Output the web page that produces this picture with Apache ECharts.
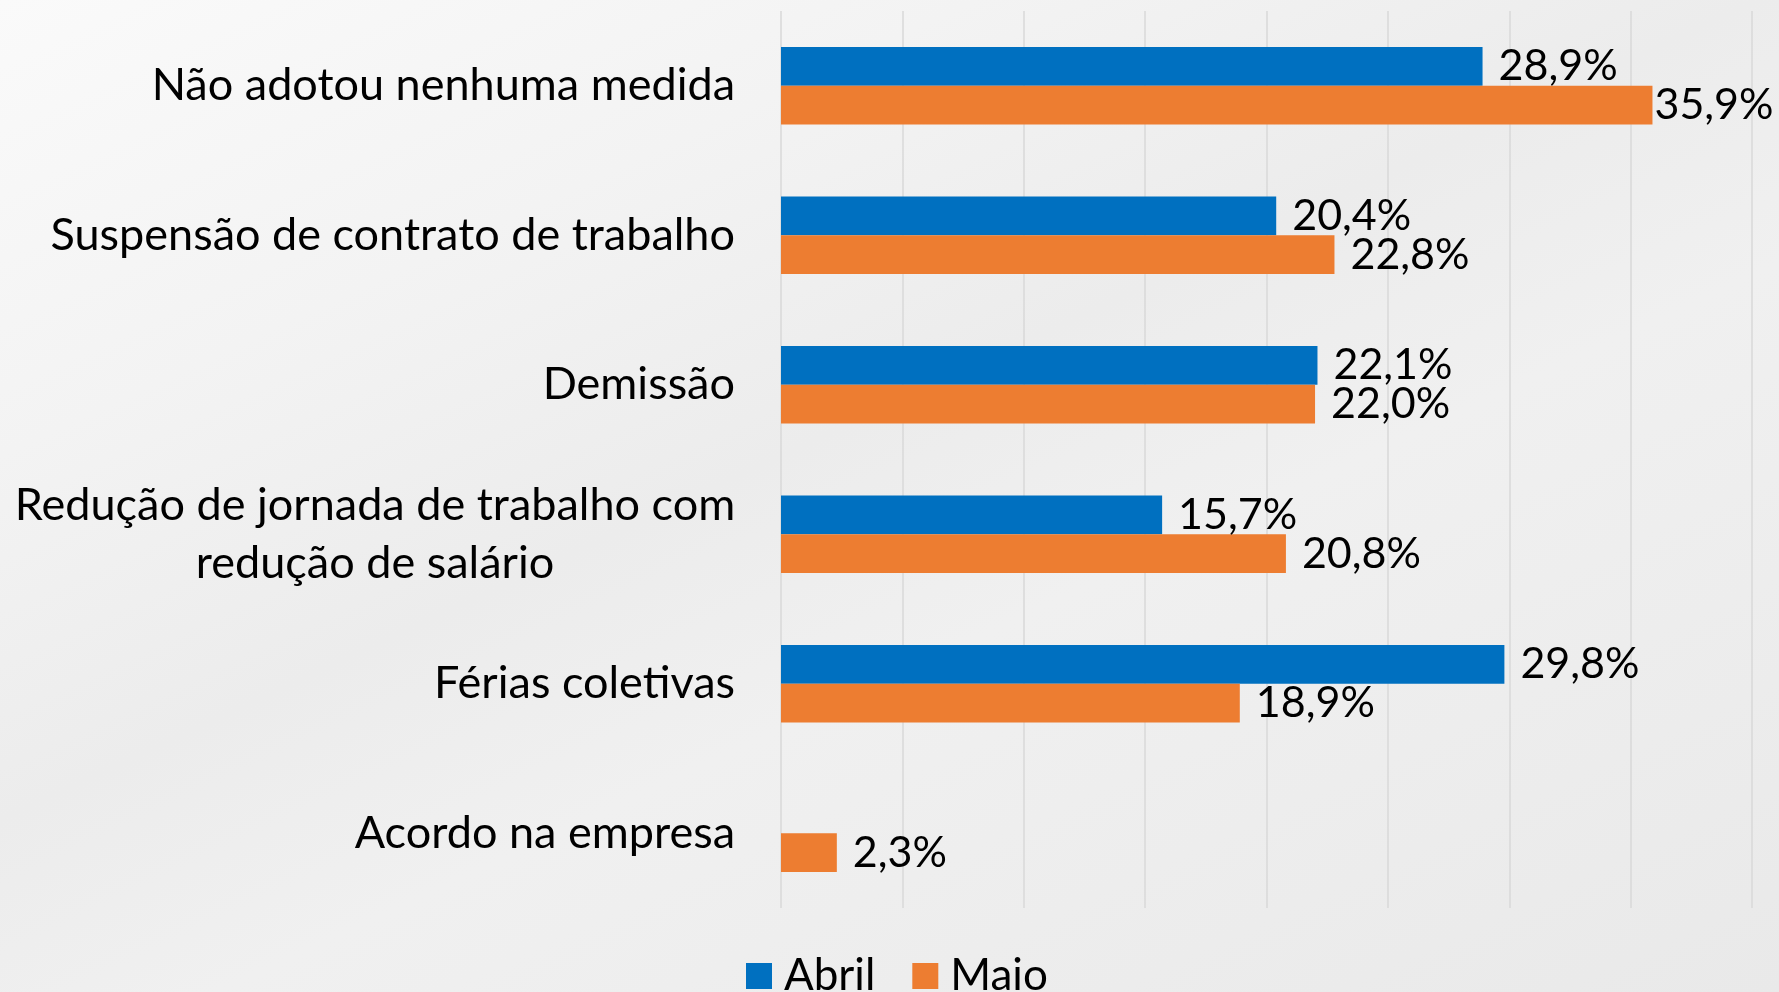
<!DOCTYPE html>
<html>
<head>
<meta charset="utf-8">
<script src="https://cdn.jsdelivr.net/npm/echarts@6/dist/echarts.min.js"></script>
<style>
html, body { margin: 0; padding: 0; }
body {
    width: 1779px; height: 992px; overflow: hidden;
    background: linear-gradient(155deg, #fafafa 0%, #f3f3f3 25%, #ececec 45%, #f0f0f0 60%, #e9e9e9 100%);
}
#chart { width: 1779px; height: 992px; }
</style>
</head>
<body>
<div id="chart"></div>
<script>
var categorias = [
    'Não adotou nenhuma medida',
    'Suspensão de contrato de trabalho',
    'Demissão',
    'Redução de jornada de trabalho com\nredução de salário',
    'Férias coletivas',
    'Acordo na empresa'
];
var abril = [28.9, 20.4, 22.1, 15.7, 29.8, null];
var maio = [35.9, 22.8, 22.0, 20.8, 18.9, 2.3];
var nomesSeries = ['Abril', 'Maio'];

var fonte = 'Lato';
var myChart = echarts.init(document.getElementById('chart'));

function pct(p) {
    return p.value.toFixed(1).replace('.', ',') + '%';
}

// labels near the right edge sit closer to the bar so they fit
function comRotulo(arr) {
    return arr.map(function (v) {
        if (v != null && v > 35) return { value: v, label: { distance: 2 } };
        return v;
    });
}

var rotulo = {
    show: true,
    position: 'right',
    distance: 16,
    color: '#000',
    fontFamily: fonte,
    fontSize: 43,
    formatter: pct
};

var option = {
    backgroundColor: 'transparent',
    grid: {
        left: 781,
        right: 27,
        top: 11,
        bottom: 84
    },
    legend: {
        data: nomesSeries,
        bottom: -11,
        left: 741,
        itemWidth: 26,
        itemHeight: 26,
        itemGap: 37,
        icon: 'rect',
        textStyle: {
            fontFamily: fonte,
            fontSize: 44,
            color: '#000',
            padding: [0, 0, 0, 7]
        }
    },
    xAxis: {
        type: 'value',
        min: 0,
        max: 40,
        interval: 5,
        axisLabel: { show: false },
        axisLine: { show: false },
        axisTick: { show: false },
        splitLine: { lineStyle: { color: '#d9d9d9', width: 1.5 } }
    },
    yAxis: {
        type: 'category',
        inverse: true,
        data: categorias,
        axisLine: { show: false },
        axisTick: { show: false },
        axisLabel: {
            margin: 46,
            color: '#000',
            fontFamily: fonte,
            fontSize: 45,
            lineHeight: 58,
            formatter: function (v) {
                if (v.indexOf('\n') < 0) return v;
                return v.split('\n').map(function (l) { return '{c|' + l + '}'; }).join('\n');
            },
            rich: {
                c: {
                    width: 720,
                    align: 'center',
                    fontFamily: fonte,
                    fontSize: 45,
                    lineHeight: 58,
                    color: '#000'
                }
            }
        }
    },
    series: [
        {
            name: 'Abril',
            type: 'bar',
            color: '#0070C0',
            barGap: '0%',
            barCategoryGap: '48%',
            label: rotulo,
            data: comRotulo(abril)
        },
        {
            name: 'Maio',
            type: 'bar',
            color: '#ED7D31',
            barGap: '0%',
            barCategoryGap: '48%',
            label: rotulo,
            data: comRotulo(maio)
        }
    ]
};
myChart.setOption(option);
</script>
</body>
</html>
